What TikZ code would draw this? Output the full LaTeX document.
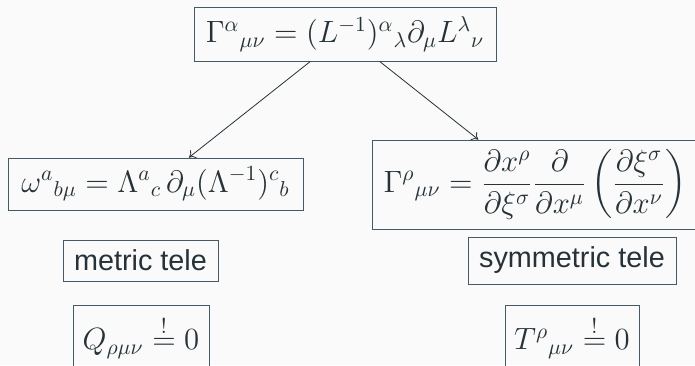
\RequirePackage{fix-cm}
\documentclass[tikz,border=0pt]{standalone}
\usepackage{amsmath}
\usepackage{fontspec}
\setsansfont{Liberation Sans}
\usetikzlibrary{arrows.meta}
\definecolor{bg}{HTML}{FAFAFA}
\definecolor{ink}{HTML}{263238}
\definecolor{edge}{HTML}{455A64}
\tikzset{
  box/.style={draw=edge, text=ink, line width=0.5pt, inner sep=0pt,
    font=\fontsize{15.4}{18}\selectfont},
  lbox/.style={box, font=\sffamily\fontsize{14.4}{17}\selectfont},
  conn/.style={draw=ink, line width=0.4pt, -{To[length=3pt,width=5pt]}}
}
\begin{document}
\begin{tikzpicture}[x=0.5pt,y=-0.5pt]
\fill[bg] (0,0) rectangle (695,365);
\useasboundingbox (0,0) rectangle (695,365);
\node[box, minimum width=151pt, minimum height=27pt] (top) at (345,34)
  {$\Gamma^{\alpha}{}_{\mu\nu} = (L^{-1})^{\alpha}{}_{\lambda}\partial_{\mu}L^{\lambda}{}_{\nu}$};
\node[box, minimum width=147.5pt, minimum height=26pt] (left) at (155.5,184)
  {$\omega^{a}{}_{b\mu} = \Lambda^{a}{}_{c}\,\partial_{\mu}(\Lambda^{-1})^{c}{}_{b}$};
\node[box, minimum width=163pt, minimum height=44.5pt] (right) at (535,184.5)
  {$\Gamma^{\rho}{}_{\mu\nu} = \dfrac{\partial x^{\rho}}{\partial \xi^{\sigma}}\dfrac{\partial}{\partial x^{\mu}}\left(\dfrac{\partial \xi^{\sigma}}{\partial x^{\nu}}\right)$};
\node[lbox, minimum width=77.5pt, minimum height=20.5pt] (metric) at (140.5,260.5) {metric tele};
\node[lbox, minimum width=104pt, minimum height=23.5pt] (sym) at (572,260.5) {symmetric tele};
\node[box, minimum width=68pt, minimum height=32pt] (Q) at (141,337)
  {$Q_{\rho\mu\nu} \overset{!}{=} 0$};
\node[box, minimum width=67pt, minimum height=32pt] (T) at (572,337)
  {$T^{\rho}{}_{\mu\nu} \overset{!}{=} 0$};
\draw[conn] (top) -- (left);
\draw[conn] (top) -- (right);
\end{tikzpicture}
\end{document}
